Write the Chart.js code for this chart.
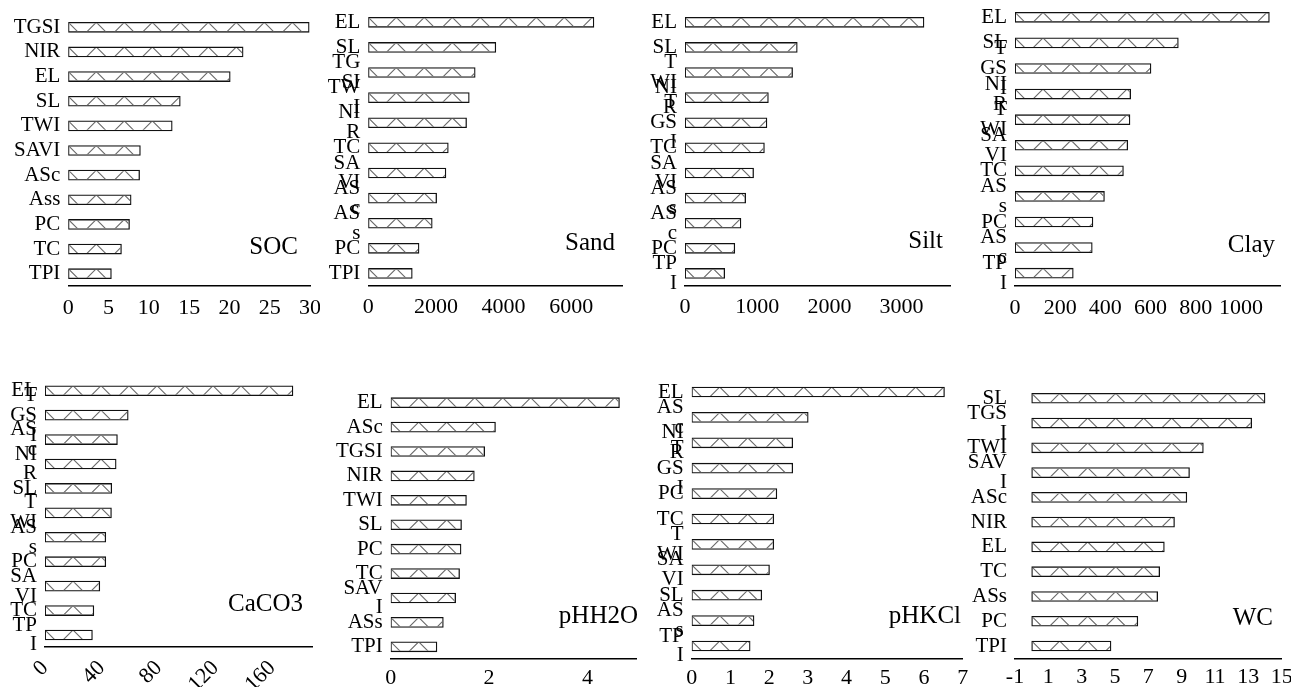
<!DOCTYPE html>
<html lang="en">
<head>
  <meta charset="UTF-8">
  <title>Variable importance</title>
  <script src="https://cdn.jsdelivr.net/npm/chart.js"></script>
  <style>
    html, body { margin: 0; padding: 0; background: #ffffff; }
    #wrap { position: relative; width: 1291px; height: 687px; overflow: hidden; }
    #wrap canvas { position: absolute; }
  </style>
</head>
<body>
<div id="wrap"></div>

<script>
// ---- data ----
const socLabels = ['TGSI', 'NIR', 'EL', 'SL', 'TWI', 'SAVI', 'ASc', 'Ass', 'PC', 'TC', 'TPI'];
const socValues = [29.9, 21.7, 20.1, 13.9, 12.9, 8.95, 8.85, 7.8, 7.6, 6.6, 5.35];
const socTicks = [0, 5, 10, 15, 20, 25, 30];

const sandLabels = ['EL', 'SL', ['TG', 'SI'], ['TW', 'I'], ['NI', 'R'], 'TC', ['SA', 'VI'], ['AS', 'c'], ['AS', 's'], 'PC', 'TPI'];
const sandValues = [6670, 3770, 3160, 2985, 2905, 2365, 2295, 2020, 1890, 1500, 1300];
const sandTicks = [0, 2000, 4000, 6000];

const siltLabels = ['EL', 'SL', ['T', 'WI'], ['NI', 'R'], ['T', 'GS', 'I'], 'TC', ['SA', 'VI'], ['AS', 's'], ['AS', 'c'], 'PC', ['TP', 'I']];
const siltValues = [3310, 1555, 1490, 1155, 1135, 1100, 950, 840, 775, 690, 550];
const siltTicks = [0, 1000, 2000, 3000];

const clayLabels = ['EL', 'SL', ['T', 'GS', 'I'], ['NI', 'R'], ['T', 'WI'], ['SA', 'VI'], 'TC', ['AS', 's'], 'PC', ['AS', 'c'], ['TP', 'I']];
const clayValues = [1126, 723, 602, 512, 509, 499, 480, 396, 345, 342, 258];
const clayTicks = [0, 200, 400, 600, 800, 1000];

const caco3Labels = ['EL', ['T', 'GS', 'I'], ['AS', 'c'], ['NI', 'R'], 'SL', ['T', 'WI'], ['AS', 's'], 'PC', ['SA', 'VI'], 'TC', ['TP', 'I']];
const caco3Values = [174.6, 58.6, 51, 50.1, 47, 46.8, 42.8, 42.8, 38.6, 34.4, 33.4];
const caco3Ticks = [0, 40, 80, 120, 160];

const phh2oLabels = ['EL', 'ASc', 'TGSI', 'NIR', 'TWI', 'SL', 'PC', 'TC', ['SAV', 'I'], 'ASs', 'TPI'];
const phh2oValues = [4.65, 2.13, 1.91, 1.70, 1.54, 1.44, 1.43, 1.40, 1.32, 1.07, 0.94];
const phh2oTicks = [0, 2, 4];

const phkclLabels = ['EL', ['AS', 'c'], ['NI', 'R'], ['T', 'GS', 'I'], 'PC', 'TC', ['T', 'WI'], ['SA', 'VI'], 'SL', ['AS', 's'], ['TP', 'I']];
const phkclValues = [6.53, 3.01, 2.61, 2.61, 2.20, 2.12, 2.12, 2.01, 1.81, 1.61, 1.51];
const phkclTicks = [0, 1, 2, 3, 4, 5, 6, 7];

const wcLabels = ['SL', ['TGS', 'I'], 'TWI', ['SAV', 'I'], 'ASc', 'NIR', 'EL', 'TC', 'ASs', 'PC', 'TPI'];
const wcValues = [14.0, 13.2, 10.3, 9.47, 9.31, 8.57, 7.96, 7.68, 7.56, 6.37, 4.76];
const wcTicks = [-1, 1, 3, 5, 7, 9, 11, 13, 15];

// ---- panel layout: cell = [x, y, w, h], area = [left, top, right, bottom] in page px ----
const panels = [
  { title: 'SOC',   labels: socLabels,   values: socValues,   ticks: socTicks,   min: 0,  max: 30,   cell: [0, 0, 320, 330],     area: [68.3, 15, 310, 286],        titleAt: [298, 254],   rot: 0,  pad: 9 },
  { title: 'Sand',  labels: sandLabels,  values: sandValues,  ticks: sandTicks,  min: 0,  max: 7520, cell: [320, 0, 320, 330],   area: [368.3, 9.75, 622.7, 286],   titleAt: [615, 250],   rot: 0,  pad: 8 },
  { title: 'Silt',  labels: siltLabels,  values: siltValues,  ticks: siltTicks,  min: 0,  max: 3670, cell: [640, 0, 320, 330],   area: [685, 9.75, 950, 286],       titleAt: [943, 248],   rot: 0,  pad: 8 },
  { title: 'Clay',  labels: clayLabels,  values: clayValues,  ticks: clayTicks,  min: 0,  max: 1173, cell: [960, 0, 331, 330],   area: [1015, 4.5, 1280, 286],      titleAt: [1275, 252],  rot: 0,  pad: 9 },
  { title: 'CaCO3', labels: caco3Labels, values: caco3Values, ticks: caco3Ticks, min: 0,  max: 188,  cell: [0, 330, 320, 357],   area: [45, 378.5, 312, 647.2],     titleAt: [303, 610.7], rot: 45, pad: 8 },
  { title: 'pHH2O', labels: phh2oLabels, values: phh2oValues, ticks: phh2oTicks, min: 0,  max: 5,    cell: [320, 330, 330, 357], area: [390.7, 390.5, 636.7, 659],  titleAt: [638, 623.3], rot: 0,  pad: 6 },
  { title: 'pHKCl', labels: phkclLabels, values: phkclValues, ticks: phkclTicks, min: 0,  max: 7,    cell: [640, 330, 340, 357], area: [691.7, 379.3, 962.7, 658.7], titleAt: [961, 622.7], rot: 0,  pad: 6 },
  { title: 'WC',    labels: wcLabels,    values: wcValues,    ticks: wcTicks,    min: -1, max: 15,   cell: [960, 330, 331, 357], area: [1015, 385.9, 1281.7, 658.4], titleAt: [1273, 625], rot: 0,  pad: 6 }
];

const FONT = "'Liberation Serif', 'Times New Roman', serif";
Chart.defaults.font.family = FONT;
Chart.defaults.color = '#000';

// zigzag hatch inside every bar, anchored at the bar start
const hatchPlugin = {
  id: 'hatch',
  afterDatasetsDraw(chart) {
    const ctx = chart.ctx;
    chart.getDatasetMeta(0).data.forEach(bar => {
      const { x, y, base, height } = bar.getProps(['x', 'y', 'base', 'height'], true);
      const top = y - height / 2, bottom = y + height / 2;
      ctx.save();
      ctx.beginPath();
      ctx.rect(base + 1, top + 1, x - base - 2, height - 2);
      ctx.clip();
      ctx.strokeStyle = '#6a6a6a';
      ctx.lineWidth = 1.1;
      ctx.beginPath();
      for (let px = base; px < x + 12; px += 28) {
        ctx.moveTo(px - 10, bottom);
        ctx.lineTo(px, top);
        ctx.lineTo(px + 10, bottom);
      }
      ctx.stroke();
      ctx.restore();
    });
  }
};

// variable name in the lower right corner of each panel
const titlePlugin = {
  id: 'panelTitle',
  afterDraw(chart, args, opts) {
    const ctx = chart.ctx;
    ctx.save();
    ctx.font = '25px ' + FONT;
    ctx.fillStyle = '#000';
    ctx.textAlign = 'right';
    ctx.textBaseline = 'alphabetic';
    ctx.fillText(opts.text, opts.x, opts.y);
    ctx.restore();
  }
};

const wrap = document.getElementById('wrap');

panels.forEach(p => {
  const [cx, cy, cw, ch] = p.cell;
  const [left, top, right, bottom] = p.area;
  const canvas = document.createElement('canvas');
  canvas.width = cw;
  canvas.height = ch;
  canvas.style.left = cx + 'px';
  canvas.style.top = cy + 'px';
  wrap.appendChild(canvas);

  new Chart(canvas, {
    type: 'bar',
    data: {
      labels: p.labels,
      datasets: [{
        data: p.values,
        backgroundColor: '#ffffff',
        borderColor: '#111111',
        borderWidth: 1.3,
        borderSkipped: false,
        barThickness: 10
      }]
    },
    options: {
      indexAxis: 'y',
      responsive: false,
      animation: false,
      layout: { padding: { left: 0, bottom: 0, top: top - cy, right: cx + cw - right } },
      plugins: {
        legend: { display: false },
        tooltip: { enabled: false },
        panelTitle: { text: p.title, x: p.titleAt[0] - cx, y: p.titleAt[1] - cy }
      },
      scales: {
        x: {
          min: p.min,
          max: p.max,
          afterBuildTicks: s => { s.ticks = p.ticks.map(v => ({ value: v })); },
          grid: { display: false, drawTicks: false },
          border: { display: true, color: '#000', width: 1.5 },
          ticks: {
            font: { size: 22 }, color: '#000', padding: p.pad,
            minRotation: p.rot, maxRotation: p.rot,
            callback: v => String(v)
          },
          afterFit: s => {
            s.height = cy + ch - bottom;
            s.paddingLeft = 0; s.paddingRight = 0;
          }
        },
        y: {
          grid: { display: false, drawTicks: false },
          border: { display: false },
          ticks: { autoSkip: false, padding: 8, font: { size: 21, lineHeight: 0.95 }, color: '#000' },
          afterFit: s => {
            s.width = left - cx;
            s.paddingTop = 0; s.paddingBottom = 0;
          }
        }
      }
    },
    plugins: [hatchPlugin, titlePlugin]
  });
});
</script>
</body>
</html>
